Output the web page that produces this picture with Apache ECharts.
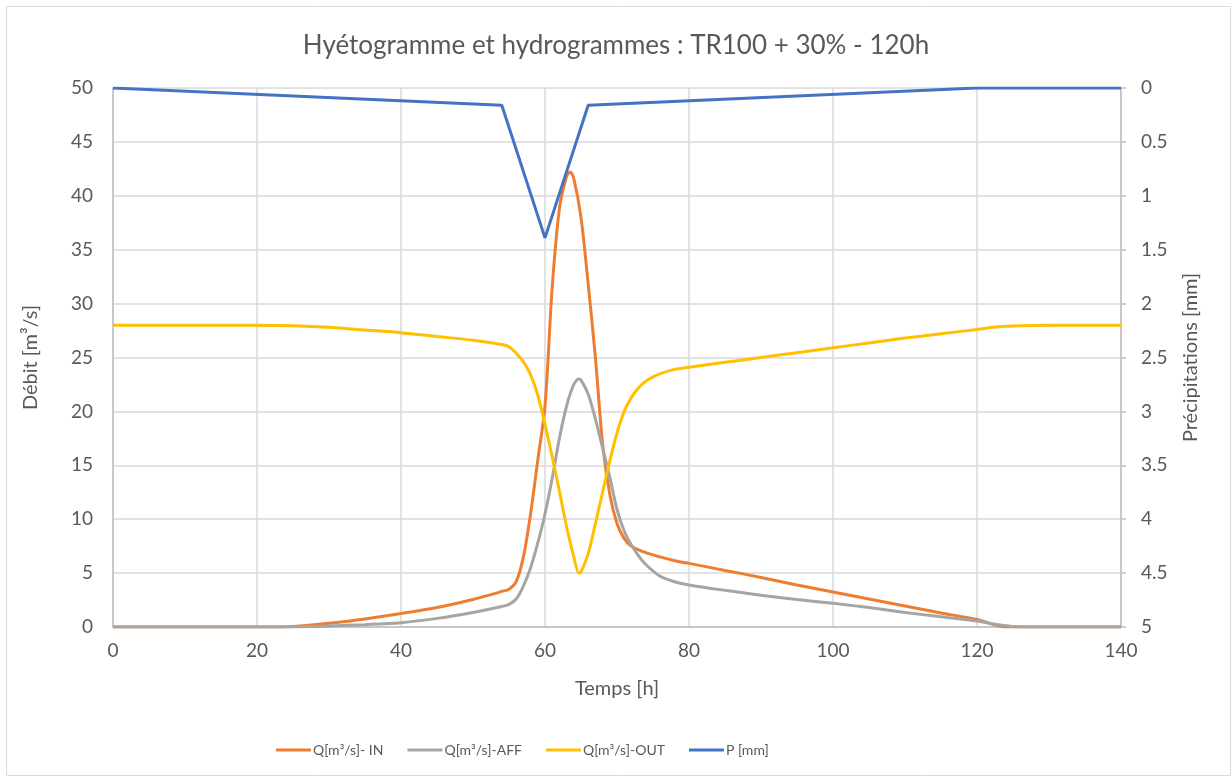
<!DOCTYPE html>
<html>
<head>
<meta charset="utf-8">
<script src="https://cdn.jsdelivr.net/npm/echarts@6/dist/echarts.min.js"></script>
<style>
html,body{margin:0;padding:0;background:#fff;}
#c{width:1232px;height:780px;}
</style>
</head>
<body>
<div id="c"></div>
<script>
// Time [h] / discharge [m3/s] pairs
const qIn = [
  [0,0],[20,0],[23,0],[26,0.1],[30,0.35],[35,0.75],[40,1.25],[45,1.8],[50,2.55],[53,3.1],[54,3.3],[55,3.5],
  [56,4.2],[57,6.5],[58,10.5],[59,15.5],[60,20.5],[61,31.5],[62,38.8],[63,41.8],[63.5,42.2],[64,41.6],
  [65,38],[66,31.8],[67,25],[68,17],[69,12.3],[70,9.6],[71,8.2],[72,7.5],[74,6.9],[76,6.5],[78,6.15],
  [80,5.9],[85,5.25],[90,4.6],[95,3.9],[100,3.25],[105,2.6],[110,1.95],[115,1.3],[120,0.7],[122,0.3],
  [124,0],[130,0],[140,0]
];
const qAff = [
  [0,0],[25,0],[28,0.05],[30,0.1],[35,0.22],[40,0.4],[45,0.8],[50,1.35],[54,1.9],[55,2.1],[56,2.6],
  [57,3.8],[58,5.5],[59,7.8],[60,10.5],[61,13.8],[62,17.5],[63,20.5],[64,22.5],[64.7,23],[65,22.9],
  [66,21.6],[67,19.3],[68,16.6],[69,13.9],[70,10.9],[71,8.9],[72,7.6],[73,6.6],[74,5.8],[76,4.7],
  [78,4.2],[80,3.9],[85,3.4],[90,2.95],[95,2.55],[100,2.2],[105,1.8],[110,1.35],[115,0.95],[120,0.55],
  [123,0.2],[126,0],[140,0]
];
const qOut = [
  [0,28],[20,28],[25,27.95],[30,27.8],[35,27.55],[40,27.3],[45,26.95],[50,26.6],[54,26.2],[55,26],
  [56,25.4],[57,24.6],[58,23.4],[59,21.5],[60,18.8],[61,15.8],[62,12.6],[63,9.3],[64,6.5],[64.7,5.0],
  [65,5.1],[66,6.8],[67,9.6],[68,12.5],[69,15.4],[70,18],[71,20],[72,21.3],[73,22.2],[74,22.8],
  [75,23.2],[76,23.5],[78,23.9],[80,24.1],[85,24.55],[90,25],[95,25.45],[100,25.9],[105,26.35],
  [110,26.8],[115,27.2],[120,27.6],[123,27.85],[126,27.95],[130,28],[140,28]
];
const precip = [[0,0],[54,0.16],[60,1.39],[66,0.16],[120,0],[140,0]];

const seriesNames = ['Q[m³/s]- IN','Q[m³/s]-AFF','Q[m³/s]-OUT','P [mm]'];
const titleText = 'Hyétogramme et hydrogrammes : TR100 + 30% - 120h';

const FONT = 'Lato';
const TXT = '#595959';
const GRID = '#d9d9d9';
const AXIS = '#bfbfbf';

const chart = echarts.init(document.getElementById('c'));
chart.setOption({
  animation:false,
  textStyle:{fontFamily:FONT},
  title:{text:titleText,left:'center',top:28,textStyle:{fontFamily:FONT,fontSize:26,fontWeight:'normal',color:TXT}},
  graphic:[{type:'rect',shape:{x:6.5,y:6.5,width:1224,height:769},style:{fill:'none',stroke:'#d9d9d9',lineWidth:1},silent:true,z:-1}],
  legend:{
    bottom:18,left:271,itemWidth:35,itemHeight:3,itemGap:24,icon:'rect',
    textStyle:{fontFamily:FONT,fontSize:14,color:TXT,padding:[0,0,0,-3]},
    data:seriesNames
  },
  grid:{left:113,right:111,top:88,bottom:153},
  xAxis:{
    type:'value',min:0,max:140,interval:20,
    name:'Temps [h]',nameLocation:'middle',nameGap:52,
    nameTextStyle:{fontFamily:FONT,fontSize:20,color:TXT},
    axisLine:{show:true,lineStyle:{color:AXIS,width:1.5}},
    axisTick:{show:false},
    axisLabel:{fontFamily:FONT,fontSize:19,color:TXT,margin:14},
    splitLine:{show:true,lineStyle:{color:GRID,width:1.5}}
  },
  yAxis:[
    {
      type:'value',min:0,max:50,interval:5,
      name:'Débit [m³/s]',nameLocation:'middle',nameGap:72,nameRotate:90,
      nameTextStyle:{fontFamily:FONT,fontSize:20,color:TXT},
      axisLine:{show:true,lineStyle:{color:AXIS,width:1.5}},
      axisTick:{show:false},
      axisLabel:{fontFamily:FONT,fontSize:19,color:TXT,margin:20},
      splitLine:{show:true,lineStyle:{color:GRID,width:1.5}}
    },
    {
      type:'value',min:0,max:5,interval:0.5,inverse:true,position:'right',
      name:'Précipitations [mm]',nameLocation:'middle',nameGap:60,nameRotate:90,
      nameTextStyle:{fontFamily:FONT,fontSize:20,color:TXT},
      axisLine:{show:true,lineStyle:{color:AXIS,width:1.5}},
      axisTick:{show:true,length:5,lineStyle:{color:AXIS,width:1.5}},
      axisLabel:{fontFamily:FONT,fontSize:19,color:TXT,margin:20},
      splitLine:{show:false}
    }
  ],
  series:[
    {name:seriesNames[0],type:'line',data:qIn,yAxisIndex:0,showSymbol:false,smooth:0.3,lineStyle:{color:'#ED7D31',width:3},itemStyle:{color:'#ED7D31'},z:3},
    {name:seriesNames[1],type:'line',data:qAff,yAxisIndex:0,showSymbol:false,smooth:0.3,lineStyle:{color:'#A5A5A5',width:3},itemStyle:{color:'#A5A5A5'},z:4},
    {name:seriesNames[2],type:'line',data:qOut,yAxisIndex:0,showSymbol:false,smooth:0.3,lineStyle:{color:'#FFC000',width:3},itemStyle:{color:'#FFC000'},z:5},
    {name:seriesNames[3],type:'line',data:precip,yAxisIndex:1,showSymbol:false,lineStyle:{color:'#4472C4',width:3},itemStyle:{color:'#4472C4'},z:6}
  ]
});
</script>
</body>
</html>
